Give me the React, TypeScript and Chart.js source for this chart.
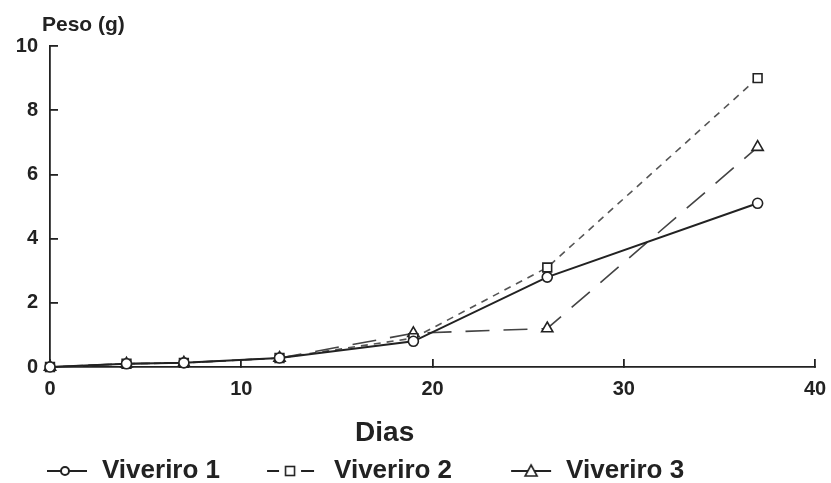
import React, { useEffect, useRef } from 'react';
import { Chart, registerables } from 'chart.js';

Chart.register(...registerables);

// ---- data ----
const days = [0, 4, 7, 12, 19, 26, 37];
const viveiro1 = [0, 0.1, 0.13, 0.28, 0.8, 2.8, 5.1];
const viveiro2 = [0, 0.1, 0.13, 0.28, 0.9, 3.1, 9.0];
const viveiro3 = [0, 0.1, 0.13, 0.28, 1.05, 1.2, 6.85];
const seriesNames = ['Viveriro 1', 'Viveriro 2', 'Viveriro 3'];
const xTickValues = [0, 10, 20, 30, 40];
const yTickValues = [0, 2, 4, 6, 8, 10];
const yAxisLabel = 'Peso (g)';
const xAxisLabel = 'Dias';

const FONT = '"Liberation Sans", Arial, Helvetica, sans-serif';
const INK = '#222';

function makeIcon(kind: number): HTMLCanvasElement {
  const W = 96;
  const H = 18;
  const c = document.createElement('canvas');
  c.width = W;
  c.height = H;
  const ctx = c.getContext('2d') as CanvasRenderingContext2D;
  ctx.strokeStyle = INK;
  ctx.fillStyle = '#fff';
  ctx.lineWidth = 2;
  const cy = H / 2;
  if (kind === 0) {
    ctx.beginPath();
    ctx.moveTo(54, cy);
    ctx.lineTo(94, cy);
    ctx.stroke();
    ctx.beginPath();
    ctx.arc(72, cy, 4, 0, Math.PI * 2);
    ctx.fill();
    ctx.stroke();
  } else if (kind === 1) {
    ctx.beginPath();
    ctx.moveTo(42, cy);
    ctx.lineTo(54, cy);
    ctx.moveTo(76, cy);
    ctx.lineTo(89, cy);
    ctx.stroke();
    ctx.lineWidth = 1.6;
    ctx.strokeRect(60.5, cy - 4.5, 9, 9);
  } else {
    ctx.beginPath();
    ctx.moveTo(54, cy);
    ctx.lineTo(94, cy);
    ctx.stroke();
    ctx.lineWidth = 1.6;
    ctx.beginPath();
    ctx.moveTo(74, cy - 6);
    ctx.lineTo(80, cy + 5);
    ctx.lineTo(68, cy + 5);
    ctx.closePath();
    ctx.fill();
    ctx.stroke();
  }
  return c;
}

const axisTextPlugin = {
  id: 'axisText',
  afterDraw(chart: any) {
    const { ctx, chartArea } = chart;
    ctx.save();
    ctx.fillStyle = INK;
    ctx.font = `bold 21px ${FONT}`;
    ctx.textAlign = 'left';
    ctx.textBaseline = 'middle';
    ctx.fillText(yAxisLabel, chartArea.left - 8, chartArea.top - 21);
    ctx.font = `bold 28px ${FONT}`;
    ctx.textAlign = 'center';
    const xs = chart.scales.x;
    ctx.fillText(xAxisLabel, xs.getPixelForValue(17.5), chartArea.bottom + 66);
    ctx.restore();
  },
};

export default function App() {
  const ref = useRef<HTMLCanvasElement | null>(null);

  useEffect(() => {
    document.body.style.margin = '0';
    document.body.style.background = '#fff';
    const canvas = ref.current;
    if (!canvas) return;
    const icons = [makeIcon(0), makeIcon(1), makeIcon(2)];
    const mk = (arr: number[]) => days.map((d, i) => ({ x: d, y: arr[i] }));

    const chart = new Chart(canvas, {
      type: 'line',
      data: {
        datasets: [
          {
            label: seriesNames[0],
            data: mk(viveiro1),
            borderColor: INK,
            borderWidth: 2,
            pointStyle: 'circle',
            pointRadius: 5,
            pointBorderWidth: 1.6,
            pointBackgroundColor: '#fff',
            pointBorderColor: INK,
            clip: false as any,
          },
          {
            label: seriesNames[1],
            data: mk(viveiro2),
            borderColor: '#555',
            borderWidth: 1.6,
            borderDash: [7, 6],
            pointStyle: 'rect',
            pointRadius: 6.2,
            pointBorderWidth: 1.6,
            pointBackgroundColor: '#fff',
            pointBorderColor: INK,
            clip: false as any,
          },
          {
            label: seriesNames[2],
            data: mk(viveiro3),
            borderColor: '#444',
            borderWidth: 1.6,
            borderDash: [24, 14],
            pointStyle: 'triangle',
            pointRadius: 6.5,
            pointBorderWidth: 1.6,
            pointBackgroundColor: '#fff',
            pointBorderColor: INK,
            clip: false as any,
          },
        ],
      },
      options: {
        animation: false,
        responsive: false,
        maintainAspectRatio: false,
        layout: { padding: { left: -12, right: 16, top: 46, bottom: -11 } },
        plugins: {
          tooltip: { enabled: false },
          title: { display: false },
          legend: {
            display: true,
            position: 'bottom',
            align: 'start',
            labels: {
              usePointStyle: true,
              pointStyleWidth: 96,
              padding: 5,
              color: INK,
              font: { family: FONT, size: 26, weight: 'bold' },
              generateLabels: (ch: any) =>
                ch.data.datasets.map((ds: any, i: number) => ({
                  text: ds.label,
                  pointStyle: icons[i],
                  fillStyle: 'transparent',
                  strokeStyle: 'transparent',
                  lineWidth: 0,
                  hidden: false,
                  datasetIndex: i,
                  fontColor: INK,
                })),
            },
          },
        },
        scales: {
          x: {
            type: 'linear',
            min: 0,
            max: 40,
            afterFit: (s: any) => {
              s.height = 86;
              s.paddingLeft = 0;
              s.paddingRight = 0;
            },
            afterBuildTicks: (s: any) => {
              s.ticks = xTickValues.map((v) => ({ value: v }));
            },
            border: { display: true, color: INK, width: 1.8 },
            grid: {
              drawOnChartArea: false,
              drawTicks: true,
              tickLength: -8,
              color: INK,
              lineWidth: 1.8,
            },
            ticks: {
              padding: 18,
              color: INK,
              font: { family: FONT, size: 20, weight: 'bold' },
              maxRotation: 0,
            },
            title: { display: false },
          },
          y: {
            type: 'linear',
            min: 0,
            max: 10,
            afterFit: (s: any) => {
              s.width = 62;
              s.paddingTop = 0;
              s.paddingBottom = 0;
            },
            afterBuildTicks: (s: any) => {
              s.ticks = yTickValues.map((v) => ({ value: v }));
            },
            border: { display: true, color: INK, width: 1.8 },
            grid: {
              drawOnChartArea: false,
              drawTicks: true,
              tickLength: -8,
              color: INK,
              lineWidth: 1.8,
            },
            ticks: {
              padding: 20,
              color: INK,
              font: { family: FONT, size: 20, weight: 'bold' },
            },
            title: { display: false },
          },
        },
      } as any,
      plugins: [axisTextPlugin],
    });
    return () => chart.destroy();
  }, []);

  return (
    <div style={{ width: 831, height: 483, position: 'relative', background: '#fff' }}>
      <canvas ref={ref} width={831} height={483} style={{ display: 'block' }} />
    </div>
  );
}
